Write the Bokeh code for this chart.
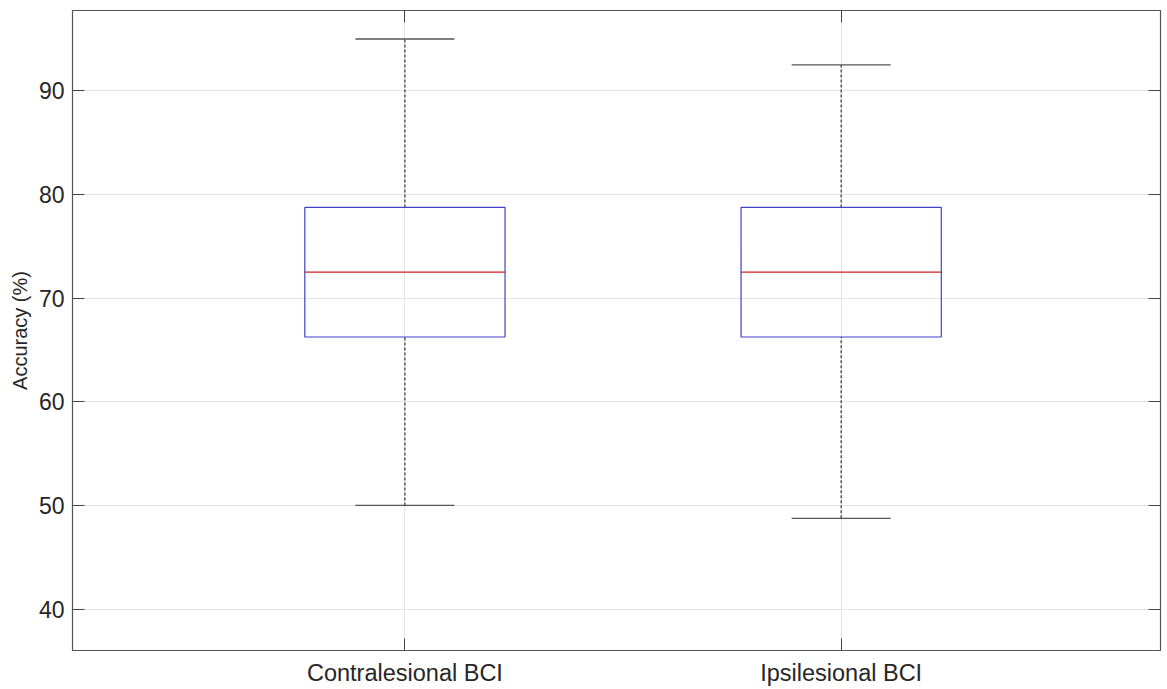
from bokeh.plotting import figure
from bokeh.models import LinearAxis, FixedTicker, Range1d, ColumnDataSource, Grid
from bokeh.embed import file_html
from bokeh.resources import INLINE

categories = ["Contralesional BCI", "Ipsilesional BCI"]
positions = [1, 2]
upper_whisker = [95.0, 92.5]
q3 = [78.75, 78.75]
median = [72.5, 72.5]
q1 = [66.25, 66.25]
lower_whisker = [50.0, 48.75]
y_ticks = [40, 50, 60, 70, 80, 90]

BOX_W = 0.459
CAP_W = 0.227
FONT = "Liberation Sans"
TXT = "#262626"
X0, X1 = 0.238, 2.732
Y0, Y1 = 36.0, 97.75

p = figure(width=1167, height=688, output_backend="svg", toolbar_location=None,
           x_range=Range1d(X0, X1), y_range=Range1d(Y0, Y1),
           min_border_left=72, min_border_top=10, min_border_right=7, min_border_bottom=38,
           x_axis_type=None, y_axis_type=None)
p.frame_width = 1088
p.frame_height = 640
p.outline_line_color = "#555555"
p.outline_line_width = 1.2
p.background_fill_color = "white"
p.border_fill_color = "white"

src = ColumnDataSource(dict(
    x=positions,
    left=[x - BOX_W / 2 for x in positions],
    right=[x + BOX_W / 2 for x in positions],
    cl=[x - CAP_W / 2 for x in positions],
    cr=[x + CAP_W / 2 for x in positions],
    uw=upper_whisker, q3=q3, med=median, q1=q1, lw=lower_whisker,
))

def style_axis(ax, labels=True):
    ax.axis_line_color = "#555555"
    ax.major_tick_line_color = "#444444"
    ax.major_tick_in = 12
    ax.major_tick_out = 0
    ax.minor_tick_line_color = None
    ax.major_label_text_font = FONT
    ax.major_label_text_color = TXT
    if not labels:
        ax.major_label_text_font_size = "0px"
        ax.major_label_text_alpha = 0

xaxis = LinearAxis(ticker=FixedTicker(ticks=positions),
                   major_label_overrides={pos: c for pos, c in zip(positions, categories)})
style_axis(xaxis)
xaxis.major_label_text_font_size = "23.5px"
xaxis.major_label_standoff = 9
p.add_layout(xaxis, "below")

yaxis = LinearAxis(ticker=FixedTicker(ticks=y_ticks), axis_label="Accuracy (%)")
style_axis(yaxis)
yaxis.major_label_text_font_size = "23px"
yaxis.major_label_standoff = 8
yaxis.axis_label_text_font = FONT
yaxis.axis_label_text_font_size = "20px"
yaxis.axis_label_text_font_style = "normal"
yaxis.axis_label_text_color = TXT
yaxis.axis_label_standoff = 5
p.add_layout(yaxis, "left")

raxis = LinearAxis(ticker=FixedTicker(ticks=y_ticks))
style_axis(raxis, labels=False)
p.add_layout(raxis, "right")

taxis = LinearAxis(ticker=FixedTicker(ticks=positions))
style_axis(taxis, labels=False)
p.add_layout(taxis, "above")

p.xgrid.visible = False
p.ygrid.visible = False
p.add_layout(Grid(dimension=0, ticker=xaxis.ticker, grid_line_color="#e4e4e4", grid_line_width=1))
p.add_layout(Grid(dimension=1, ticker=yaxis.ticker, grid_line_color="#e4e4e4", grid_line_width=1))

# whiskers (dashed)
p.segment(x0="x", y0="q3", x1="x", y1="uw", source=src, line_color="#333333",
          line_width=1.2, line_dash="3 2")
p.segment(x0="x", y0="lw", x1="x", y1="q1", source=src, line_color="#333333",
          line_width=1.2, line_dash="3 2")
# caps
p.segment(x0="cl", y0="uw", x1="cr", y1="uw", source=src, line_color="#555555", line_width=1.4)
p.segment(x0="cl", y0="lw", x1="cr", y1="lw", source=src, line_color="#555555", line_width=1.4)
# boxes
p.quad(left="left", right="right", bottom="q1", top="q3", source=src,
       fill_color=None, line_color="#4040c8", line_width=1.2)
# medians
p.segment(x0="left", y0="med", x1="right", y1="med", source=src, line_color="#d42020", line_width=1.2)

open("out.html", "w").write(file_html(p, INLINE))
